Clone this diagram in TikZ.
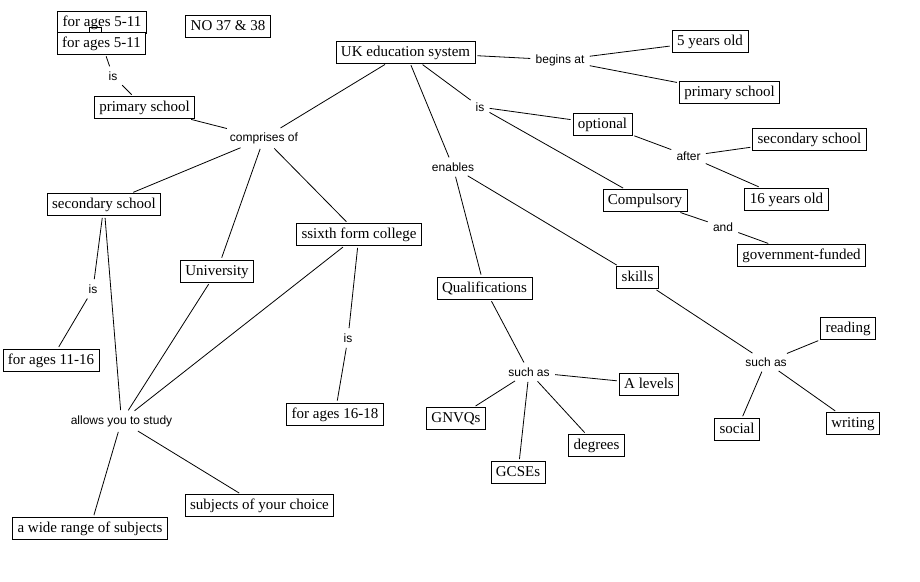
\documentclass[tikz,border=0pt]{standalone}
\usepackage{fontspec}
\setmainfont{Liberation Serif}
\setsansfont{Liberation Sans}

\begin{document}
\begin{tikzpicture}[x=1pt,y=-1pt,line width=0.8pt,
    box/.style={draw,fill=white,font=\fontsize{15}{18}\selectfont,
      inner xsep=5pt,inner ysep=4pt,text height=11pt,text depth=3pt},
    lbl/.style={font=\sffamily\fontsize{12}{14}\selectfont,inner sep=3pt},
    link/.style={shorten <=2pt,shorten >=2pt}]
  \useasboundingbox (0,0) rectangle (920,581);

  % top left corner
  \node[box] (agesA) at (102,22) {for ages 5-11};
  \node[draw,minimum width=12pt,minimum height=5pt,inner sep=0pt] (tab) at (95,29.5) {};
  \node[box] (agesB) at (101.5,43) {for ages 5-11};
  \node[box] (num) at (228,26.5) {NO 37 \& 38};
  \node[lbl] (isP) at (113,76) {is};
  \node[box] (primL) at (144.5,107.5) {primary school};

  % centre
  \node[box] (uk) at (405.5,52) {UK education system};
  \node[lbl] (comprises) at (264,138) {comprises of};
  \node[box] (secL) at (104,204.5) {secondary school};
  \node[box] (uni) at (217,271) {University};
  \node[box] (sixth) at (359,234.5) {ssixth form college};
  \node[lbl] (isS) at (93,289) {is};
  \node[box] (ages1116) at (51,360) {for ages 11-16};
  \node[lbl] (isC) at (348,338) {is};
  \node[box] (ages1618) at (335,414) {for ages 16-18};
  \node[lbl] (allows) at (121.5,421) {allows you to study};
  \node[box] (choice) at (259.5,505.5) {subjects of your choice};
  \node[box] (range) at (90,528.5) {a wide range of subjects};

  % right side
  \node[lbl] (begins) at (560,60) {begins at};
  \node[box] (five) at (710,41) {5 years old};
  \node[box] (primR) at (729.5,92.5) {primary school};
  \node[lbl] (isR) at (480,107) {is};
  \node[box] (optional) at (602.5,124) {optional};
  \node[lbl] (after) at (688.5,156) {after};
  \node[box] (secR) at (809.5,139) {secondary school};
  \node[box] (sixteen) at (786.5,199) {16 years old};
  \node[box] (compulsory) at (645,200.5) {Compulsory};
  \node[lbl] (and) at (723,227) {and};
  \node[box] (funded) at (801.5,255.5) {government-funded};

  % enables branch
  \node[lbl] (enables) at (453,167) {enables};
  \node[box] (qual) at (484.5,288) {Qualifications};
  \node[box] (skills) at (637.5,277.5) {skills};
  \node[lbl] (suchQ) at (529,372) {such as};
  \node[box] (alevels) at (649,384) {A levels};
  \node[box] (gnvq) at (456,418.5) {GNVQs};
  \node[box] (degrees) at (596.5,445.5) {degrees};
  \node[box] (gcse) at (518,472.5) {GCSEs};
  \node[lbl] (suchS) at (766,362) {such as};
  \node[box] (reading) at (848,328.5) {reading};
  \node[box] (social) at (737,429.5) {social};
  \node[box] (writing) at (853,423.5) {writing};

  \draw[link] (agesB) -- (isP);
  \draw[link] (isP) -- (primL);
  \draw[link] (primL) -- (comprises);
  \draw[link] (comprises) -- (uk);
  \draw[link] (comprises) -- (secL);
  \draw[link] (comprises) -- (uni);
  \draw[link] (comprises) -- (sixth);
  \draw[link] (secL) -- (isS);
  \draw[link] (isS) -- (ages1116);
  \draw[link] (secL) -- (allows);
  \draw[link] (uni) -- (allows);
  \draw[link] (sixth) -- (allows);
  \draw[link] (sixth) -- (isC);
  \draw[link] (isC) -- (ages1618);
  \draw[link] (allows) -- (choice);
  \draw[link] (allows) -- (range);

  \draw[link] (uk) -- (begins);
  \draw[link] (begins) -- (five);
  \draw[link] (begins) -- (primR);
  \draw[link] (uk) -- (isR);
  \draw[link] (isR) -- (optional);
  \draw[link] (isR) -- (compulsory);
  \draw[link] (optional) -- (after);
  \draw[link] (after) -- (secR);
  \draw[link] (after) -- (sixteen);
  \draw[link] (compulsory) -- (and);
  \draw[link] (and) -- (funded);

  \draw[link] (uk) -- (enables);
  \draw[link] (enables) -- (qual);
  \draw[link] (enables) -- (skills);
  \draw[link] (qual) -- (suchQ);
  \draw[link] (suchQ) -- (alevels);
  \draw[link] (suchQ) -- (gnvq);
  \draw[link] (suchQ) -- (degrees);
  \draw[link] (suchQ) -- (gcse);
  \draw[link] (skills) -- (suchS);
  \draw[link] (suchS) -- (reading);
  \draw[link] (suchS) -- (social);
  \draw[link] (suchS) -- (writing);
\end{tikzpicture}
\end{document}
